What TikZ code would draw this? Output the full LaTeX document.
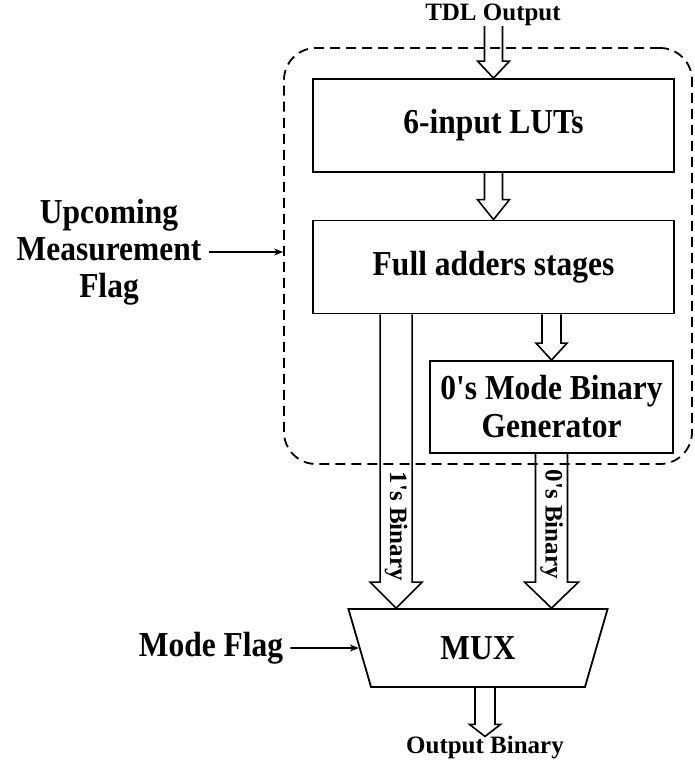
\documentclass[tikz,border=0pt]{standalone}
\usepackage{fontspec}
\setmainfont{Liberation Serif}
% families without the TeX quote mapping, so ' stays a straight quote
\newfontfamily\lblfont{Liberation Serif}[FakeStretch=0.9]
\newfontfamily\tagfont{Liberation Serif}
\usetikzlibrary{calc,shapes.geometric,arrows.meta}

% hollow block arrow pointing down: #1 start point, #2 tip, #3 shaft half width, #4 head half width, #5 head length
\newcommand\hollowdown[5]{%
  \draw[blockline] let \p1=(#1), \p2=(#2) in
    (\x2-#3pt,\y1) -- (\x2-#3pt,\y2+#5pt) -- (\x2-#4pt,\y2+#5pt) -- (\x2,\y2)
    -- (\x2+#4pt,\y2+#5pt) -- (\x2+#3pt,\y2+#5pt) -- (\x2+#3pt,\y1);}

\begin{document}
\begin{tikzpicture}[x=1pt,y=-1pt,
  blockline/.style={line width=1.6pt, line join=miter},
  stagebox/.style={draw, line width=1.8pt, minimum width=361pt, minimum height=93pt,
    inner sep=0pt, font=\lblfont\fontsize{35}{38}\selectfont\bfseries},
  genbox/.style={draw, line width=1.8pt, minimum width=243pt, minimum height=92pt,
    inner sep=0pt, align=center, font=\lblfont\fontsize{35}{38}\selectfont\bfseries},
  biglabel/.style={align=center, inner sep=7pt, font=\lblfont\fontsize{35}{37}\selectfont\bfseries},
  smalllabel/.style={inner sep=0pt, font=\tagfont\fontsize{25}{30}\selectfont\bfseries},
  sidelabel/.style={inner sep=0pt, rotate=-90, font=\tagfont\fontsize{25}{30}\selectfont\bfseries},
  flagarrow/.style={-{Stealth[length=9pt,width=7pt]}, line width=1.6pt},
  groupbox/.style={draw, dashed, dash pattern=on 10pt off 6pt, line width=1.8pt,
    rounded corners=32pt, minimum width=408pt, minimum height=416pt}]

\useasboundingbox (0,0) rectangle (695,763);

% dashed enclosure
\node[groupbox] (grp) at (488,256) {};

% processing blocks
\node[stagebox] (lut) at (493.5,125.5) {6-input LUTs};
\node[stagebox] (fas) at (493.5,267) {Full adders stages};
\node[genbox] (gen) at (551.5,407) {0's Mode Binary\\Generator};

% multiplexer
\node[draw, line width=1.8pt, trapezium, trapezium angle=71.1, shape border rotate=180,
  trapezium stretches=true, minimum width=261pt, minimum height=78pt, inner sep=0pt,
  font=\lblfont\fontsize{35}{37}\selectfont\bfseries] (mux) at (478,648) {MUX};

% external labels
\node[smalllabel] (tdl) at (493,15) {TDL Output};
\node[smalllabel] (outb) at (485,748) {Output Binary};
\node[biglabel] (upc) at (109,252) {Upcoming\\Measurement\\Flag};
\node[biglabel] (mflag) at (211,648) {Mode Flag};

% anchor points for the block arrows
\coordinate (onesrc) at ($(fas.south west)+(84,0)$);
\coordinate (onetip) at (onesrc |- mux.north);
\coordinate (zerotip) at (gen.south |- mux.north);

% block arrows
\hollowdown{tdl.south}{lut.north}{9}{16}{17}
\hollowdown{lut.south}{fas.north}{9}{16}{20}
\hollowdown{fas.south}{gen.north}{9.5}{15.5}{17}
\hollowdown{onesrc}{onetip}{16}{26}{26}
\hollowdown{gen.south}{zerotip}{16}{27}{26}
\hollowdown{mux.south}{outb.north}{10}{15.5}{12}

% labels inside the wide arrows
\node[sidelabel] (onelbl) at ($(onetip)+(0,-82)$) {1's Binary};
\node[sidelabel] (zerolbl) at ($(zerotip)+(0,-84)$) {0's Binary};

% flag inputs
\draw[flagarrow] (upc) -- (upc -| grp.west);
\draw[flagarrow] (mflag) -- (mux);
\end{tikzpicture}
\end{document}
